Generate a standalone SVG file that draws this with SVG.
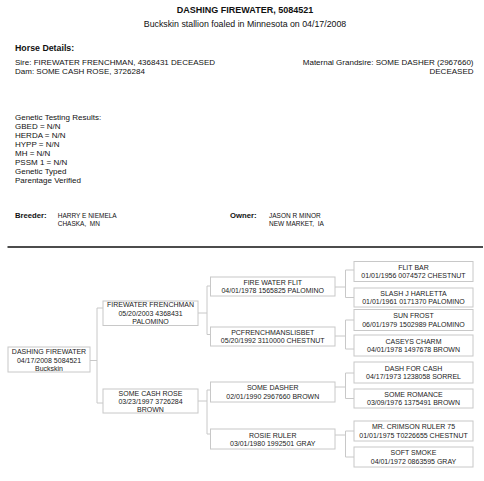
<svg xmlns="http://www.w3.org/2000/svg" width="484" height="481" viewBox="0 0 484 481">
<style>
text{font-family:"Liberation Sans",Arial,sans-serif;fill:#111}
.h1{font-size:9px;font-weight:bold}
.sub{font-size:8.8px}
.hd{font-size:8.8px;font-weight:bold}
.t8{font-size:8px}
.lb{font-size:7.7px;font-weight:bold}
.nm{font-size:6.5px}
.bx{fill:#fff;stroke:#c8c8c8;stroke-width:1}
.n text{font-size:7px;text-anchor:middle;fill:#222}
.c{fill:none;stroke:#c8c8c8;stroke-width:1}
</style>
<rect width="484" height="481" fill="#fff"/>
<g id="header">
<text class="h1" x="245" y="13.2" text-anchor="middle">DASHING FIREWATER, 5084521</text>
<text class="sub" x="245" y="27.2" text-anchor="middle">Buckskin stallion foaled in Minnesota on 04/17/2008</text>
<text class="hd" x="15" y="50.8">Horse Details:</text>
<text class="t8" x="15" y="64.5">Sire: FIREWATER FRENCHMAN, 4368431 DECEASED</text>
<text class="t8" x="15" y="73.5">Dam: SOME CASH ROSE, 3726284</text>
<text class="t8" x="473.5" y="64.5" text-anchor="end">Maternal Grandsire: SOME DASHER (2967660)</text>
<text class="t8" x="473.5" y="73.5" text-anchor="end">DECEASED</text>
</g>
<g id="genetics" class="t8">
<text class="t8" x="15" y="119.6">Genetic Testing Results:</text>
<text class="t8" x="15" y="128.6">GBED = N/N</text>
<text class="t8" x="15" y="137.6">HERDA = N/N</text>
<text class="t8" x="15" y="146.6">HYPP = N/N</text>
<text class="t8" x="15" y="155.6">MH = N/N</text>
<text class="t8" x="15" y="164.6">PSSM 1 = N/N</text>
<text class="t8" x="15" y="173.6">Genetic Typed</text>
<text class="t8" x="15" y="182.6">Parentage Verified</text>
</g>
<g id="people">
<text class="lb" x="15" y="217.8">Breeder:</text>
<text class="nm" x="57.7" y="217.5">HARRY E NIEMELA</text>
<text class="nm" x="57.7" y="225.8" xml:space="preserve">CHASKA,  MN</text>
<text class="lb" x="230" y="217.8">Owner:</text>
<text class="nm" x="269" y="217.5">JASON R MINOR</text>
<text class="nm" x="269" y="225.8" xml:space="preserve">NEW MARKET,  IA</text>
</g>
<line x1="7.5" y1="247" x2="483" y2="247" stroke="#111" stroke-width="1.3"/>
<g id="connectors" class="c">
<path d="M90 360.5H97M97 308V403M97 308H103M97 403H103"/>
<path d="M198 313H207M207 286V334.5M207 286H210.5M207 334.5H210.5"/>
<path d="M198 401H207M207 390V434M207 390H210.5M207 434H210.5"/>
<path d="M335 287H345.5M345.5 270V297.5M345.5 270H354M345.5 297.5H354"/>
<path d="M335 336H345.5M345.5 320V349M345.5 320H354M345.5 349H354"/>
<path d="M335 387H345.5M345.5 373V398.5M345.5 373H354M345.5 398.5H354"/>
<path d="M335 435H345.5M345.5 431V457M345.5 431H354M345.5 457H354"/>
</g>
<g id="n-subject" class="n">
<rect class="bx" x="8" y="347" width="82" height="25"/>
<text x="49" y="354.3">DASHING FIREWATER</text>
<text x="49" y="362.8">04/17/2008 5084521</text>
<text x="49" y="371.2">Buckskin</text>
</g>
<g id="n-sire" class="n">
<rect class="bx" x="103" y="301" width="95" height="24.5"/>
<text x="150.5" y="307.3">FIREWATER FRENCHMAN</text>
<text x="150.5" y="315.8">05/20/2003 4368431</text>
<text x="150.5" y="324.2">PALOMINO</text>
</g>
<g id="n-dam" class="n">
<rect class="bx" x="103" y="389" width="95" height="24"/>
<text x="150.5" y="395.6">SOME CASH ROSE</text>
<text x="150.5" y="404.1">03/23/1997 3726284</text>
<text x="150.5" y="412.4">BROWN</text>
</g>
<g id="n-ss" class="n">
<rect class="bx" x="210.5" y="277" width="124.5" height="19"/>
<text x="272.75" y="284.6">FIRE WATER FLIT</text>
<text x="272.75" y="293">04/01/1978 1565825 PALOMINO</text>
</g>
<g id="n-sd" class="n">
<rect class="bx" x="210.5" y="327" width="124.5" height="19"/>
<text x="272.75" y="334.6">PCFRENCHMANSLISBET</text>
<text x="272.75" y="343">05/20/1992 3110000 CHESTNUT</text>
</g>
<g id="n-ds" class="n">
<rect class="bx" x="210.5" y="382" width="124.5" height="20"/>
<text x="272.75" y="390.3">SOME DASHER</text>
<text x="272.75" y="398.8">02/01/1990 2967660 BROWN</text>
</g>
<g id="n-dd" class="n">
<rect class="bx" x="210.5" y="429" width="124.5" height="20"/>
<text x="272.75" y="437.5">ROSIE RULER</text>
<text x="272.75" y="446">03/01/1980 1992501 GRAY</text>
</g>
<g id="n-sss" class="n">
<rect class="bx" x="354" y="261.5" width="119" height="20"/>
<text x="413.5" y="269.8">FLIT BAR</text>
<text x="413.5" y="278.3">01/01/1956 0074572 CHESTNUT</text>
</g>
<g id="n-ssd" class="n">
<rect class="bx" x="354" y="288" width="119" height="19"/>
<text x="413.5" y="295.8">SLASH J HARLETTA</text>
<text x="413.5" y="304.2">01/01/1961 0171370 PALOMINO</text>
</g>
<g id="n-sds" class="n">
<rect class="bx" x="354" y="309.5" width="119" height="21"/>
<text x="413.5" y="318.3">SUN FROST</text>
<text x="413.5" y="326.8">06/01/1979 1502989 PALOMINO</text>
</g>
<g id="n-sdd" class="n">
<rect class="bx" x="354" y="335" width="119" height="21"/>
<text x="413.5" y="343.8">CASEYS CHARM</text>
<text x="413.5" y="352.3">04/01/1978 1497678 BROWN</text>
</g>
<g id="n-dss" class="n">
<rect class="bx" x="354" y="362" width="119" height="21"/>
<text x="413.5" y="370.8">DASH FOR CASH</text>
<text x="413.5" y="379.3">04/17/1973 1238058 SORREL</text>
</g>
<g id="n-dsd" class="n">
<rect class="bx" x="354" y="389" width="119" height="19"/>
<text x="413.5" y="396.8">SOME ROMANCE</text>
<text x="413.5" y="405.2">03/09/1976 1375491 BROWN</text>
</g>
<g id="n-dds" class="n">
<rect class="bx" x="354" y="421" width="119" height="20"/>
<text x="413.5" y="429.3">MR. CRIMSON RULER 75</text>
<text x="413.5" y="437.8">01/01/1975 T0226655 CHESTNUT</text>
</g>
<g id="n-ddd" class="n">
<rect class="bx" x="354" y="447" width="119" height="20"/>
<text x="413.5" y="455.3">SOFT SMOKE</text>
<text x="413.5" y="463.8">04/01/1972 0863595 GRAY</text>
</g>
</svg>
